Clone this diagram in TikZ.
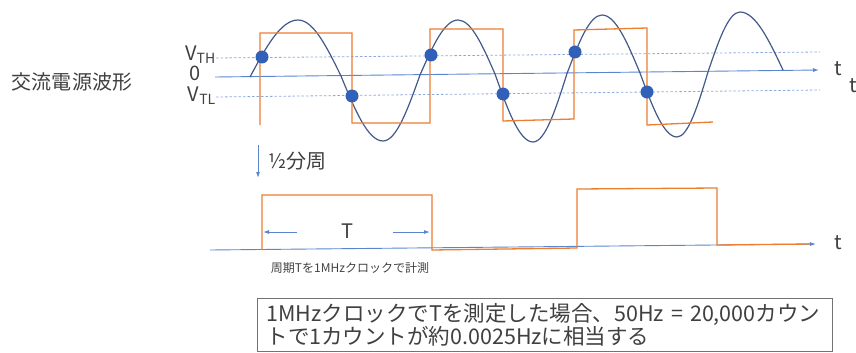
\documentclass[tikz,border=0pt]{standalone}
\usepackage{fontspec}
\setmainfont{Noto Sans CJK JP}
\usetikzlibrary{arrows.meta}
\definecolor{sqorange}{HTML}{ED7D31}
\definecolor{sineblue}{HTML}{42598A}
\definecolor{dotblue}{HTML}{3160B8}
\definecolor{axisblue}{HTML}{5B86CF}
\definecolor{dashblue}{HTML}{8EA9DB}
\definecolor{txtgray}{HTML}{404040}

\begin{document}
\begin{tikzpicture}[x=1pt,y=-1pt,>={Latex[length=6pt,width=4pt]},
    lbl/.style={font=\fontsize{20}{22}\selectfont, text=txtgray, inner sep=0pt},
    axisline/.style={draw=axisblue, line width=0.9pt},
    thresh/.style={draw=dashblue, line width=0.8pt, dash pattern=on 2.5pt off 2pt},
    sqwave/.style={draw=sqorange, line width=1.3pt},
    sinewave/.style={draw=sineblue, line width=1.2pt},
    dot/.style={circle, fill=dotblue, minimum size=13pt, inner sep=0pt}]
    \useasboundingbox (0,0) rectangle (856,353);

    % input waveform
    \node[lbl] (title) at (72,82) {交流電源波形};
    \node[lbl, anchor=east] (vth) at (216,55) {V\textsubscript{TH}};
    \node[lbl, anchor=east] (vzero) at (201,73) {0};
    \node[lbl, anchor=east] (vtl) at (216,96) {V\textsubscript{TL}};

    \coordinate (th0) at (216,58);
    \coordinate (th1) at (820,52);
    \coordinate (tl0) at (216,97);
    \coordinate (tl1) at (820,90);
    \draw[thresh] (th0) -- (th1);
    \draw[thresh] (tl0) -- (tl1);

    \coordinate (ax0) at (215,77);
    \coordinate (ax1) at (819,70);
    \draw[axisline,->] (ax0) -- (ax1);
    \node[lbl] (ta) at (838,69) {t};
    \node[lbl] (tb) at (853,86) {t};

    \draw[sinewave] (250,77) sin (298,20) cos (341,76) sin (383,141) cos (420,75)
        sin (458,20) cos (495,74) sin (533,142) cos (567,73.5) sin (602,15)
        cos (640,73) sin (677,137) cos (708,72) sin (740,12) cos (783,70);
    \draw[sqwave] (260,125) -- (260,33) -- (352,33) -- (352,123) -- (430,123)
        -- (430,29) -- (503,29) -- (503,121) -- (574,119) -- (574,30)
        -- (647,28) -- (647,125) -- (713,122);
    \foreach \px/\py [count=\i] in {262/57,352/96,431/55,503/94,575/52,647/92}
        \node[dot] (d\i) at (\px,\py) {};

    % divider
    \coordinate (dv0) at (258,145);
    \coordinate (dv1) at (258,178);
    \draw[axisline,->] (dv0) -- (dv1);
    \node[lbl, anchor=west] (half) at (268,161) {½分周};

    % output pulse
    \coordinate (bx0) at (210,250);
    \coordinate (bx1) at (816,244);
    \draw[axisline,->] (bx0) -- (bx1);
    \node[lbl] (tc) at (838,243) {t};
    \draw[sqwave] (262,250) -- (262,195) -- (432,195) -- (432,250) -- (577,248)
        -- (577,189) -- (717,188) -- (717,245) -- (810,244);

    \node[lbl] (per) at (347,231) {T};
    \coordinate (pl0) at (297,232);
    \coordinate (pl1) at (263,232);
    \coordinate (pr0) at (393,232);
    \coordinate (pr1) at (430,232);
    \draw[axisline,->] (pl0) -- (pl1);
    \draw[axisline,->] (pr0) -- (pr1);
    \node[lbl, font=\fontsize{12}{14}\selectfont] (meas) at (350,268) {周期Tを1MHzクロックで計測};

    \node[draw=black!55, line width=1pt, anchor=north west, minimum width=575pt,
        minimum height=53pt, text width=557pt, inner xsep=9pt, align=left,
        font=\fontsize{21.5}{20}\selectfont, text=txtgray] (note) at (257,298)
        {\mbox{1MHzクロックでTを測定した場合、50Hz = 20,000カウン}\\\mbox{トで1カウントが約0.0025Hzに相当する}};
\end{tikzpicture}
\end{document}
